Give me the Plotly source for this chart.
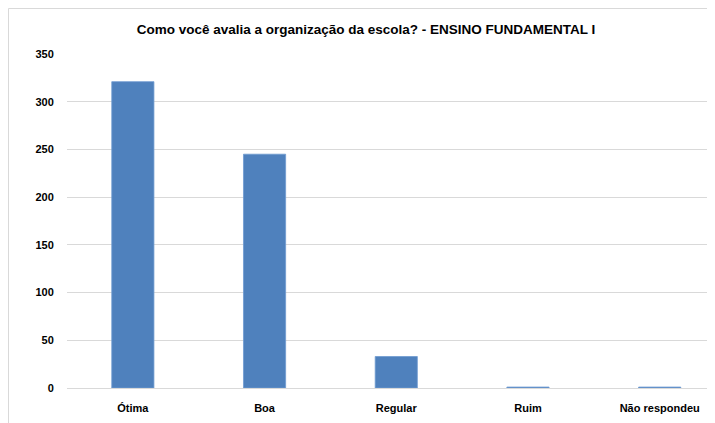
import plotly.graph_objects as go

categories = ["Ótima", "Boa", "Regular", "Ruim", "Não respondeu"]
counts = [321, 245, 33, 1, 1]
y_ticks = [0, 50, 100, 150, 200, 250, 300, 350]

# page body adds an 8px offset, so the figure is laid out 8px smaller
W, H = 707, 415
L, R, T, B = 59, 0, 46, 35
pw, ph = W - L - R, H - T - B

fig = go.Figure(go.Bar(
    x=categories, y=counts,
    marker=dict(color="#4F81BD", line=dict(color="#6F9AD0", width=0.8)),
    width=0.32,
))

fig.update_xaxes(
    type="category", range=[-0.5, 4.42], automargin=False,
    tickvals=categories, ticktext=[f"<b>{c}</b>" for c in categories],
    showline=True, linecolor="#D9D9D9", linewidth=1,
    showgrid=False, ticks="outside", ticklen=10, tickcolor="rgba(0,0,0,0)",
    tickfont=dict(family="Liberation Sans", size=11, color="#000"),
)
fig.update_yaxes(
    range=[0, 350], automargin=False,
    tickvals=y_ticks, ticktext=[f"<b>{v}</b>" for v in y_ticks],
    showgrid=True, gridcolor="#D9D9D9", gridwidth=1,
    zeroline=False, showline=False,
    ticks="outside", ticklen=10, tickcolor="rgba(0,0,0,0)",
    tickfont=dict(family="Liberation Sans", size=11, color="#000"),
)

# light outer frame of the chart area (left and top edges visible)
fig.add_shape(
    type="rect", xref="paper", yref="paper",
    x0=(0.5 - L) / pw, x1=1.2, y0=-0.3, y1=(T + ph - 0.5) / ph,
    line=dict(color="#D9D9D9", width=1), layer="below",
)

fig.update_layout(
    title=dict(
        text="<b>Como você avalia a organização da escola? - ENSINO FUNDAMENTAL I</b>",
        x=358 / W, xanchor="center", y=1 - 21 / H, yanchor="middle",
        font=dict(family="Liberation Sans", size=13.5, color="#000"),
    ),
    width=W, height=H,
    margin=dict(l=L, r=R, t=T, b=B),
    plot_bgcolor="white", paper_bgcolor="white",
    showlegend=False,
)

fig.write_html("out.html")
